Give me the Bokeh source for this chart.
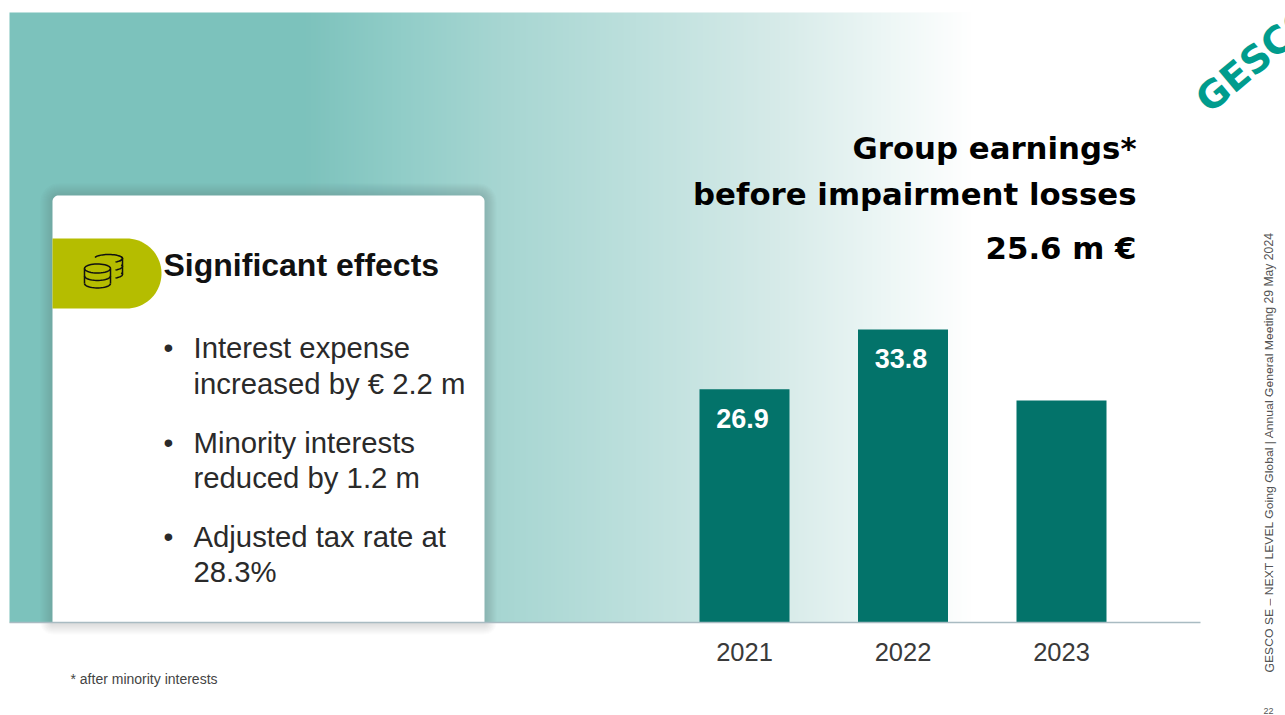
import numpy as np
from bokeh.core.properties import value
from bokeh.embed import file_html
from bokeh.models import FixedTicker, LinearAxis, Range1d
from bokeh.plotting import figure
from bokeh.resources import INLINE

# Chart data
years = [2021, 2022, 2023]
earnings = [26.9, 33.8, 25.6]
labelled_years = [2021, 2022]
labelled_earnings = [26.9, 33.8]

# Slide texts
title_lines = ["Group earnings*", "before impairment losses", "25.6 m €"]
card_title = "Significant effects"
bullets = [
    "Interest expense", "increased by € 2.2 m",
    "Minority interests", "reduced by 1.2 m",
    "Adjusted tax rate at", "28.3%",
]
footnote = "* after minority interests"
side_note = "GESCO SE – NEXT LEVEL Going Global | Annual General Meeting 29 May 2024"
page_number = "22"

WIDTH, HEIGHT = 1285, 715
BASELINE = 622
PX_PER_UNIT = 8.67
BAR_PITCH = 158.5
FIRST_BAR = 744
TEAL = "#03736a"
FONT = value("Liberation Sans")
WIDE_FONT = value("DejaVu Sans")

p = figure(
    width=WIDTH, height=HEIGHT, output_backend="svg", toolbar_location=None,
    x_range=Range1d(0, WIDTH), y_range=Range1d(HEIGHT, 0),
    x_axis_location=None, y_axis_location=None, min_border=0,
    background_fill_color="white", border_fill_color="white", outline_line_color=None,
)
p.grid.visible = False
p.extra_x_ranges["years"] = Range1d(
    years[0] - FIRST_BAR / BAR_PITCH, years[0] + (WIDTH - FIRST_BAR) / BAR_PITCH
)
p.extra_y_ranges["earnings"] = Range1d(
    (BASELINE - HEIGHT) / PX_PER_UNIT, BASELINE / PX_PER_UNIT
)

# Horizontal wash behind the left part of the slide
stops_x = [9, 300, 400, 500, 635, 769, 880, 970]
stops_rgb = [(124, 194, 188), (124, 194, 188), (145, 205, 200), (167, 214, 210),
             (189, 224, 221), (213, 234, 232), (236, 246, 245), (255, 255, 255)]
columns = np.arange(stops_x[0], stops_x[-1])
wash = np.zeros((1, len(columns)), dtype=np.uint32)
view = wash.view(np.uint8).reshape((1, len(columns), 4))
for channel in range(3):
    view[0, :, channel] = np.interp(columns, stops_x, [c[channel] for c in stops_rgb])
view[0, :, 3] = 255
p.image_rgba(image=[wash], x=stops_x[0], y=12, dw=stops_x[-1] - stops_x[0], dh=BASELINE - 12)


def rounded_box(x0, y0, x1, y1, r_left, r_right, r_bottom=0.0):
    """Outline of a box with rounded upper corners, used for card and shadow."""
    t = np.linspace(0, np.pi / 2, 10)
    xs = np.concatenate([x0 + r_left - r_left * np.cos(t), x1 - r_right + r_right * np.sin(t),
                         x1 - r_bottom + r_bottom * np.cos(t), x0 + r_bottom - r_bottom * np.sin(t)])
    ys = np.concatenate([y0 + r_left - r_left * np.sin(t), y0 + r_right - r_right * np.cos(t),
                         y1 - r_bottom + r_bottom * np.sin(t), y1 - r_bottom + r_bottom * np.cos(t)])
    return xs, ys


# Soft shadow and white card
for grow in range(1, 13):
    xs, ys = rounded_box(52 - grow, 195 - grow, 484 + grow, 622 + grow, 6 + grow, 6 + grow, grow)
    p.patch(xs, ys, fill_color="#2f5f5c", fill_alpha=0.014, line_color=None)
xs, ys = rounded_box(52, 195, 484, 622, 6, 6)
p.patch(xs, ys, fill_color="white", line_color=None)

# Olive tab with round right end
t = np.linspace(-np.pi / 2, np.pi / 2, 40)
p.patch(np.concatenate([[52], 126 + 35 * np.cos(t), [52]]),
        np.concatenate([[238], 273 + 35 * np.sin(t), [308]]),
        fill_color="#b5bd00", line_color=None)


# Coin stacks icon
def coin_stack(cx, top, rx, ry, step, count):
    a = np.linspace(0, 2 * np.pi, 40)
    p.line(cx + rx * np.cos(a), top + ry * np.sin(a), line_color="#111111", line_width=1.5)
    b = np.linspace(0, np.pi, 20)
    for i in range(1, count + 1):
        p.line(cx + rx * np.cos(b), top + step * i + ry * np.sin(b), line_color="#111111", line_width=1.5)
    p.multi_line([[cx - rx] * 2, [cx + rx] * 2], [[top, top + step * count]] * 2,
                 line_color="#111111", line_width=1.5)


a = np.linspace(np.radians(-165), np.radians(40), 30)
p.line(108 + 14 * np.cos(a), 258 + 4 * np.sin(a), line_color="#111111", line_width=1.5)
b = np.linspace(np.radians(-25), np.radians(60), 12)
for off in (0, 8, 16):
    p.line(108 + 14 * np.cos(b), 258 + off + 4 * np.sin(b), line_color="#111111", line_width=1.5)
p.line([122, 122], [258, 274], line_color="#111111", line_width=1.5)
coin_stack(97, 268, 13, 4.5, 7.5, 2)

# Bars and their labels
p.vbar(x=years, top=earnings, bottom=0, width=90 / BAR_PITCH, fill_color=TEAL, line_color=None,
       x_range_name="years", y_range_name="earnings")
p.text(x=labelled_years, y=labelled_earnings, text=[f"{v:.1f}" for v in labelled_earnings],
       x_range_name="years", y_range_name="earnings", x_offset=-2, y_offset=29, text_color="white",
       text_font=FONT, text_font_style="bold", text_font_size="27px",
       text_align="center", text_baseline="middle")

# Baseline spanning the slide
p.segment(x0=[9], y0=[BASELINE], x1=[1200], y1=[BASELINE], line_color="#a9bbc2", line_width=1.5)

# Year axis sitting in the plot area under the baseline
year_axis = LinearAxis(
    x_range_name="years", fixed_location=BASELINE, ticker=FixedTicker(ticks=years),
    axis_line_color=None, major_tick_line_color=None, minor_tick_line_color=None,
    major_label_standoff=14, major_label_text_color="#3a3a3a",
    major_label_text_font="Liberation Sans", major_label_text_font_size="25.5px",
)
p.add_layout(year_axis, "below")

# Heading, right aligned
for line, y in zip(title_lines, [147, 193, 247]):
    p.text(x=[1136], y=[y], text=[line], text_font=WIDE_FONT, text_font_style="bold",
           text_font_size="30.8px", text_color="black", text_align="right", text_baseline="middle")

# Card content
p.text(x=[163], y=[264], text=[card_title], text_font=FONT, text_font_style="bold", text_font_size="32px",
       text_color="#111111", text_baseline="middle")
bullet_ys = [347, 383, 442, 477, 536, 571]
p.text(x=[193] * 6, y=bullet_ys, text=bullets, text_font=FONT, text_font_size="29.3px",
       text_color="#2a2a2a", text_baseline="middle")
p.text(x=[163] * 3, y=[bullet_ys[0], bullet_ys[2], bullet_ys[4]], text=["•"] * 3, text_font=FONT,
       text_font_size="28px", text_color="#2a2a2a", text_baseline="middle")

# Small print
p.text(x=[70], y=[678], text=[footnote], text_font=FONT, text_font_size="14px",
       text_color="#444444", text_baseline="middle")
p.text(x=[1269], y=[672], text=[side_note], angle=[np.pi / 2], text_font=FONT, text_font_size="12.2px",
       text_color="#555555", text_baseline="middle")
p.text(x=[1268], y=[710], text=[page_number], text_font=FONT, text_font_size="9px",
       text_color="#555555", text_align="center", text_baseline="middle")

# Company logo, running off the slide corner
p.text(x=[1201], y=[104], text=["GESCO"], angle=[np.radians(40)], text_font=WIDE_FONT,
       text_font_style="bold", text_font_size="38px", text_color="#009c8d",
       text_baseline="alphabetic")

open("out.html", "w").write(file_html(p, INLINE))
